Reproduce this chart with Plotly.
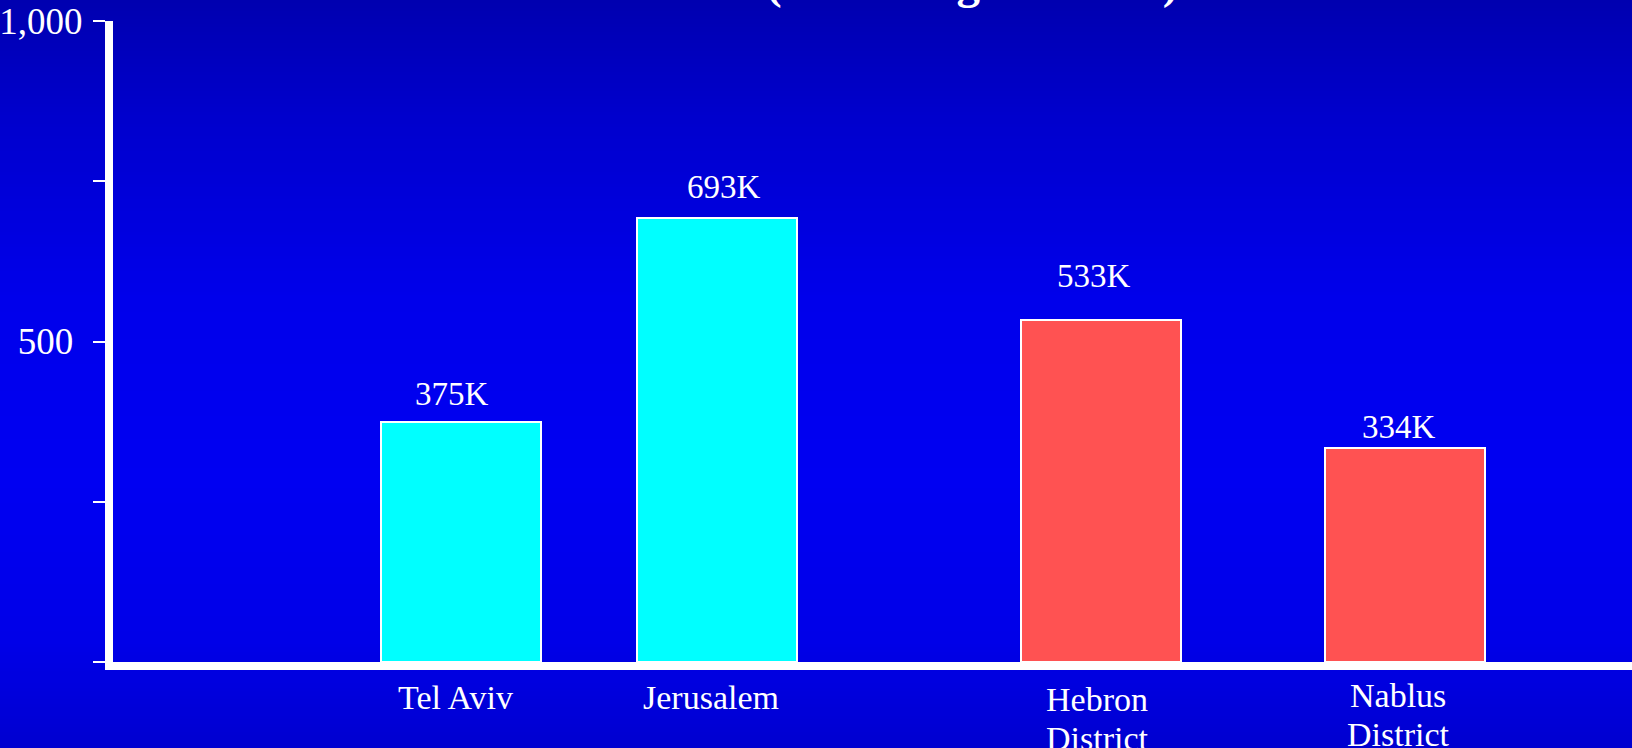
import plotly.graph_objects as go

categories = ["Tel Aviv", "Jerusalem", "Hebron<br>District", "Nablus<br>District"]
population_k = [375, 693, 533, 334]
value_labels = ["375K", "693K", "533K", "334K"]
bar_colors = ["#00FFFF", "#00FFFF", "#FF5252", "#FF5252"]
y_tickvals = [0, 250, 500, 750, 1000]
y_ticktext = ["", "", "500\u00a0", "", "1,000"]
title_text = "(according to PCBS)"

W, H = 1632, 748
ML, MR, MT, MB = 113, 0, 21, 86
plot_w = W - ML - MR
plot_h = H - MT - MB
unit = 160.0
bar_pos = [2.175, 3.775, 6.175, 8.075]
x_max = plot_w / unit

FONT = "Liberation Serif"

fig = go.Figure()
fig.add_trace(go.Bar(
    x=bar_pos, y=population_k, width=1.0,
    marker=dict(color=bar_colors, line=dict(color="white", width=2)),
    hoverinfo="skip", showlegend=False,
))

# value labels
lab_dx = [-9, 7, -7, -6]
lab_dy = [28, 31, 44, 21]
for i, (xp, v, t) in enumerate(zip(bar_pos, population_k, value_labels)):
    fig.add_annotation(x=xp, y=v, text=t, showarrow=False, xref="x", yref="y",
                       yanchor="middle", xanchor="center",
                       xshift=lab_dx[i], yshift=lab_dy[i],
                       font=dict(family=FONT, size=33, color="white"))

# category labels below the axis (one annotation per text line for tight spacing)
cat_dx = [-6, -6, -4, -7]
cat_line1_dy = [-35, -35, -37, -33]
line_gap = 39
for i, (xp, c) in enumerate(zip(bar_pos, categories)):
    for j, part in enumerate(c.split("<br>")):
        fig.add_annotation(x=xp, y=0, text=part, showarrow=False, xref="x", yref="paper",
                           xanchor="center", yanchor="middle",
                           xshift=cat_dx[i], yshift=cat_line1_dy[i] - j * line_gap,
                           font=dict(family=FONT, size=34, color="white"))

# title (mostly cut off at the top of the page)
fig.add_annotation(x=(972 - ML) / plot_w, y=1, xref="paper", yref="paper",
                   text="<b>" + title_text + "</b>", showarrow=False,
                   xanchor="center", yanchor="bottom", yshift=MT - 10,
                   font=dict(family=FONT, size=47, color="white"))

# vertical background gradient
def blue_at(py):
    pts = [(0, 176), (120, 205), (300, 235), (480, 242), (640, 232), (748, 208)]
    for (a, ca), (b, cb) in zip(pts[:-1], pts[1:]):
        if a <= py <= b:
            return ca + (cb - ca) * (py - a) / (b - a)
    return pts[-1][1]

step = 4
shapes = []
for py in range(0, H, step):
    b = int(round(blue_at(py + step / 2)))
    y0 = (H - MB - (py + step + 0.5)) / plot_h
    y1 = (H - MB - (py - 0.5)) / plot_h
    shapes.append(dict(type="rect", xref="paper", yref="paper",
                       x0=-ML / plot_w - 0.01, x1=1.01, y0=y0, y1=y1,
                       fillcolor=f"rgb(0,0,{b})", line=dict(width=0), layer="below"))

fig.update_layout(
    width=W, height=H,
    margin=dict(l=ML, r=MR, t=MT, b=MB, pad=0, autoexpand=False),
    paper_bgcolor="rgb(0,0,220)",
    plot_bgcolor="rgba(0,0,0,0)",
    shapes=shapes,
    font=dict(family=FONT, size=33, color="white"),
    bargap=0,
)
fig.update_xaxes(range=[0, x_max], tickvals=bar_pos, showticklabels=False,
                 automargin=False,
                 showgrid=False, zeroline=False, showline=True, linecolor="white",
                 linewidth=8, ticks="", fixedrange=True)
fig.update_yaxes(range=[0, 1000], tickvals=y_tickvals, ticktext=y_ticktext,
                 automargin=False,
                 showgrid=False, zeroline=False, showline=True, linecolor="white",
                 linewidth=8, ticks="outside", ticklen=12, tickwidth=2, tickcolor="white",
                 ticklabelstandoff=3,
                 tickfont=dict(family=FONT, size=37, color="white"), fixedrange=True)

fig.write_html("out.html", config={"displayModeBar": False},
               post_script="document.body.style.margin='0';document.body.style.overflow='hidden';")
